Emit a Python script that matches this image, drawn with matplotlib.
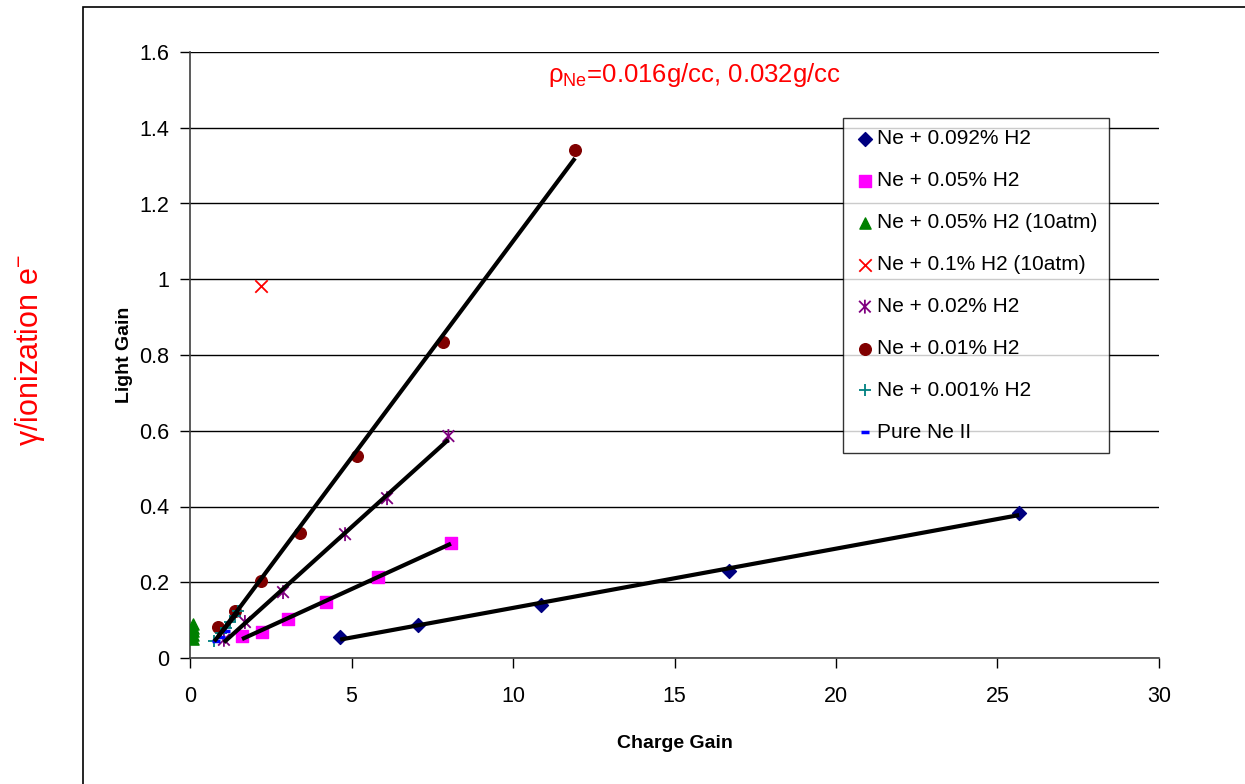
import numpy as np
import matplotlib
matplotlib.use("Agg")
import matplotlib.pyplot as plt
from matplotlib.path import Path
from matplotlib.patches import Rectangle

plt.rcParams['font.family'] = ['Liberation Sans', 'DejaVu Sans']

# data (charge gain, light gain)
h2_0092_x = [4.65, 7.06, 10.87, 16.69, 25.67]
h2_0092_y = [0.055, 0.087, 0.140, 0.230, 0.383]

h2_005_x = [1.61, 2.23, 3.03, 4.21, 5.82, 8.08]
h2_005_y = [0.058, 0.069, 0.103, 0.148, 0.214, 0.304]

h2_005_10atm_x = [0.09, 0.09, 0.09, 0.09, 0.09]
h2_005_10atm_y = [0.050, 0.060, 0.070, 0.080, 0.090]

h2_01_10atm_x = [2.2]
h2_01_10atm_y = [0.982]

h2_002_x = [1.05, 1.70, 2.88, 4.80, 6.10, 8.00]
h2_002_y = [0.048, 0.095, 0.174, 0.327, 0.422, 0.586]

h2_001_x = [0.87, 1.39, 2.20, 3.40, 5.17, 7.83, 11.92]
h2_001_y = [0.082, 0.125, 0.203, 0.330, 0.533, 0.834, 1.341]

h2_0001_x = [0.75, 0.95, 1.10, 1.25, 1.40, 1.50]
h2_0001_y = [0.045, 0.065, 0.080, 0.095, 0.110, 0.125]

pure_x = [0.80, 0.95, 1.10]
pure_y = [0.045, 0.055, 0.070]

labels = ["Ne + 0.092% H2", "Ne + 0.05% H2", "Ne + 0.05% H2 (10atm)",
          "Ne + 0.1% H2 (10atm)", "Ne + 0.02% H2", "Ne + 0.01% H2",
          "Ne + 0.001% H2", "Pure Ne II"]

# excel style star: x with a vertical bar
star = Path([(-1, -1), (1, 1), (-1, 1), (1, -1), (0, -1.2), (0, 1.2)],
            [Path.MOVETO, Path.LINETO, Path.MOVETO, Path.LINETO, Path.MOVETO, Path.LINETO])

fig = plt.figure(figsize=(12.45, 7.84), dpi=100)
ax = fig.add_axes([190/1245, 1-658/784, (1159-190)/1245, (658-52)/784])

# outer chart frame
fig.patches.append(Rectangle((83/1245, -0.01), 1.0, 1-7/784+0.01, transform=fig.transFigure,
                             fill=False, edgecolor='black', lw=1.2))

ax.scatter(h2_0092_x, h2_0092_y, marker='D', s=50, color='#000080', label=labels[0], zorder=3)
ax.scatter(h2_005_x, h2_005_y, marker='s', s=65, color='#FF00FF', label=labels[1], zorder=3)
ax.scatter(h2_005_10atm_x, h2_005_10atm_y, marker='^', s=65, color='#008000', label=labels[2], zorder=3)
ax.scatter(h2_01_10atm_x, h2_01_10atm_y, marker='x', s=80, color='#FF0000', linewidths=1.3,
           label=labels[3], zorder=3)
ax.scatter(h2_002_x, h2_002_y, marker=star, s=100, color='#800080', linewidths=1.3,
           facecolors='none', label=labels[4], zorder=3)
ax.scatter(h2_001_x, h2_001_y, marker='o', s=70, color='#800000', label=labels[5], zorder=3)
ax.scatter(h2_0001_x, h2_0001_y, marker='+', s=80, color='#008080', linewidths=1.3,
           label=labels[6], zorder=3)
ax.scatter(pure_x, pure_y, marker='_', s=40, color='#0000FF', linewidths=2.5,
           label=labels[7], zorder=3)

# linear fits over each series' range
for xs, ys in [(h2_0092_x, h2_0092_y), (h2_005_x, h2_005_y), (h2_002_x, h2_002_y),
               (h2_001_x, h2_001_y), (h2_0001_x, h2_0001_y)]:
    k, b = np.polyfit(xs, ys, 1)
    xx = np.array([min(xs), max(xs)])
    ax.plot(xx, k*xx + b, color='black', lw=3, zorder=4, solid_capstyle='butt')

ax.set_xlim(0, 30)
ax.set_ylim(0, 1.6)
ax.set_xticks(np.arange(0, 31, 5))
ax.set_yticks(np.arange(0, 1.61, 0.2))
ax.set_yticklabels(["0", "0.2", "0.4", "0.6", "0.8", "1", "1.2", "1.4", "1.6"])
ax.yaxis.grid(True, color='black', lw=1)
ax.set_axisbelow(True)
for side in ['top', 'right']:
    ax.spines[side].set_visible(False)
for side in ['left', 'bottom']:
    ax.spines[side].set_color('#404040')
    ax.spines[side].set_linewidth(1.2)
ax.tick_params(direction='out', length=7, width=1, labelsize=15.5, pad=8, colors='black')
ax.tick_params(axis='x', pad=13)

ax.set_xlabel("Charge Gain", fontsize=14, fontweight='bold', labelpad=20)
ax.set_ylabel("Light Gain", fontsize=14, fontweight='bold', labelpad=4)

ax.text(0.52, 0.962, "ρ$_{\\mathregular{Ne}}$=0.016g/cc, 0.032g/cc", transform=ax.transAxes,
        color='red', fontsize=18.5, ha='center', va='center')
fig.text(30/1245, 1-350/784, "γ/ionization e$^{\\mathregular{-}}$", color='red', fontsize=22,
         rotation=90, ha='center', va='center')

leg = ax.legend(loc='upper left', bbox_to_anchor=((843-190)/969, 1-(118-52)/606),
                fontsize=15, frameon=True, fancybox=False, edgecolor='black',
                handletextpad=0.1, handlelength=1.0, labelspacing=1.1, borderpad=0.55,
                scatterpoints=1, borderaxespad=0)
leg.get_frame().set_linewidth(1)

fig.savefig("out.png", dpi=100)
